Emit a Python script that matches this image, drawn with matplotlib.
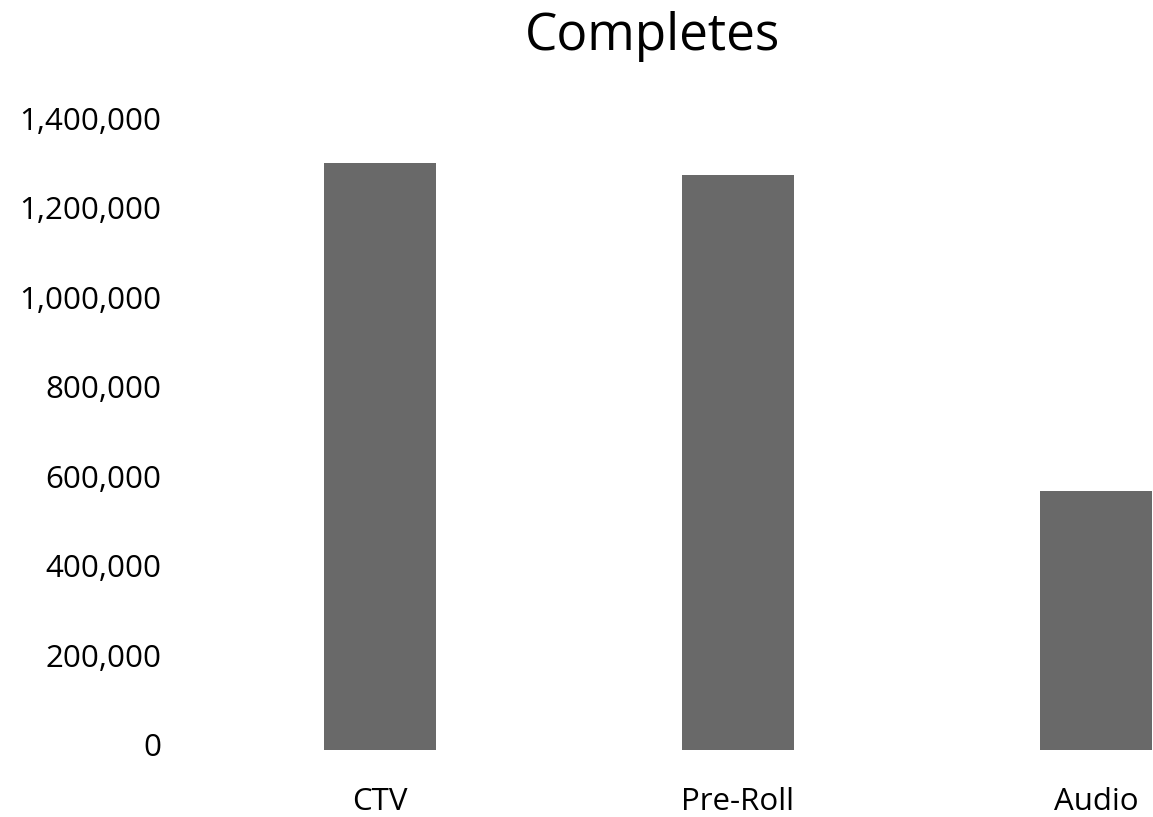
import matplotlib
matplotlib.use("Agg")
import matplotlib.pyplot as plt
from matplotlib.ticker import FuncFormatter
import matplotlib.transforms as mtransforms

plt.rcParams["font.family"] = ["Open Sans", "DejaVu Sans"]

# data
categories = ["CTV", "Pre-Roll", "Audio"]
completes = [1310000, 1283000, 578000]
y_ticks = [0, 200000, 400000, 600000, 800000, 1000000, 1200000, 1400000]

W, H = 1153, 817
fig = plt.figure(figsize=(W / 100, H / 100), dpi=100)
ax = fig.add_axes([170 / W, 1 - 750 / H, 1 - 170 / W, (750 - 123) / H])

x = list(range(len(categories)))
ax.bar(x, completes, width=0.313, color="#696969")

ax.set_xlim((170 - 380) / 358, (1153 - 380) / 358)
ax.set_ylim(0, 1400000)
ax.set_yticks(y_ticks)
ax.yaxis.set_major_formatter(FuncFormatter(lambda v, _: f"{int(v):,}"))
ax.set_xticks(x)
ax.set_xticklabels(categories)

ax.tick_params(axis="both", length=0, labelsize=22.5, colors="black")
ax.tick_params(axis="y", pad=6)
ax.tick_params(axis="x", pad=37.5)
for lbl in ax.get_xticklabels():
    lbl.set_verticalalignment("center")
# nudge y labels up slightly like the original
offset = mtransforms.ScaledTranslation(0, 5 / 100, fig.dpi_scale_trans)
for lbl in ax.get_yticklabels():
    lbl.set_transform(lbl.get_transform() + offset)

for s in ax.spines.values():
    s.set_visible(False)

fig.text(652 / W, 1 - 36 / H, "Completes", ha="center", va="center", fontsize=37)

fig.savefig("out.png", dpi=100)
